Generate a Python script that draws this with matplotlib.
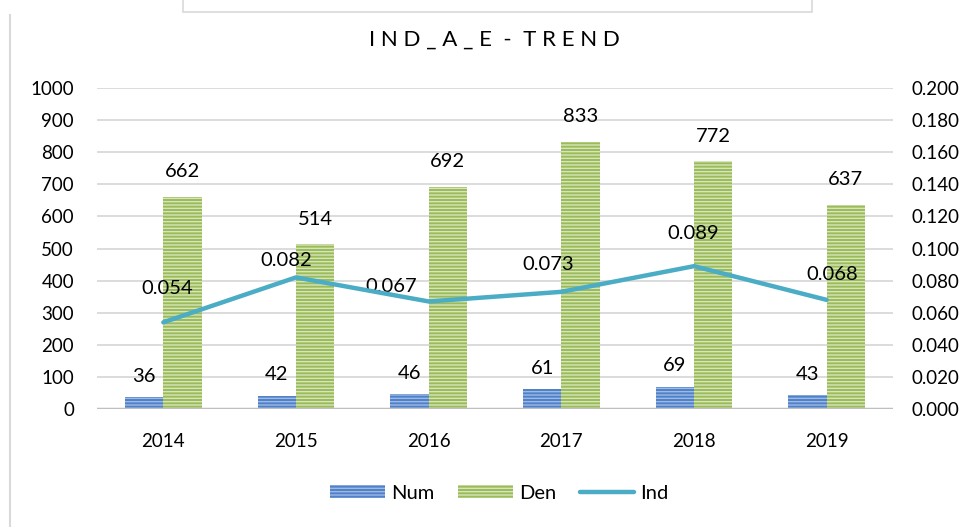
import matplotlib
matplotlib.use("Agg")
import matplotlib.pyplot as plt
from matplotlib.patches import Patch, Rectangle
from matplotlib.lines import Line2D

# chart data
years = ["2014", "2015", "2016", "2017", "2018", "2019"]
num = [36, 42, 46, 61, 69, 43]
den = [662, 514, 692, 833, 772, 637]
ind = [0.054, 0.082, 0.067, 0.073, 0.089, 0.068]

# label offsets for the Ind line (pixels)
ind_label_offsets = [(4, 34), (-10, 17), (-37, 15), (-13, 27), (-1, 33), (6, 25)]

plt.rcParams['font.family'] = ['Lato', 'DejaVu Sans']
plt.rcParams['hatch.linewidth'] = 1.0

blue = '#4F81C8'
blue_light = '#9DB9E4'
green = '#9BBB59'
green_light = '#D6E5BC'
teal = '#4BACC6'

fig = plt.figure(figsize=(9.7, 5.27), dpi=100)
ax = fig.add_axes([0.1, 0.2239, 0.8206, 0.6091])
ax2 = ax.twinx()

x = list(range(len(years)))
w = 0.29

# bars: solid fill, then light horizontal stripes on top
xb = [i - w / 2 for i in x]
xg = [i + w / 2 for i in x]
ax.bar(xb, num, width=w, color=blue, linewidth=0, zorder=2)
ax.bar(xb, num, width=w, facecolor='none', edgecolor=blue_light, hatch='-----', linewidth=0, zorder=3)
ax.bar(xg, den, width=w, color=green, linewidth=0, zorder=2)
ax.bar(xg, den, width=w, facecolor='none', edgecolor=green_light, hatch='-----', linewidth=0, zorder=3)

for i in x:
    ax.annotate(str(num[i]), (xb[i], num[i]), xytext=(0, 21), textcoords='offset pixels',
                ha='center', va='center', fontsize=14.5)
    ax.annotate(str(den[i]), (xg[i], den[i]), xytext=(0, 25), textcoords='offset pixels',
                ha='center', va='center', fontsize=14.5)

ax2.plot(x, ind, color=teal, linewidth=3.2, solid_capstyle='round', zorder=4)
for i in x:
    dx, dy = ind_label_offsets[i]
    ax2.annotate(f"{ind[i]:.3f}", (x[i], ind[i]), xytext=(dx, dy), textcoords='offset pixels',
                 ha='center', va='center', fontsize=14.5)

ax.set_xlim(-0.5, len(years) - 0.5)
ax.set_ylim(0, 1000)
ax.set_yticks(range(0, 1001, 100))
ax2.set_ylim(0, 0.2)
ax2.set_yticks([i * 0.02 for i in range(11)])
ax2.set_yticklabels([f"{i * 0.02:.3f}" for i in range(11)])
ax.set_xticks(x)
ax.set_xticklabels(years)

ax.grid(axis='y', color='#D9D9D9', linewidth=1.3, zorder=0)
ax.set_axisbelow(True)
for a in (ax, ax2):
    for s in ('top', 'right', 'left', 'bottom'):
        a.spines[s].set_visible(False)
    a.tick_params(length=0, labelsize=13.5)
ax.axhline(0, color='#BFBFBF', linewidth=2.5, zorder=5)
ax.tick_params(axis='y', pad=16.5)
ax.tick_params(axis='x', pad=17)
ax2.tick_params(axis='y', pad=13.5)

fig.text(0.51, 0.924, "I N D _ A _ E  -  T R E N D", ha='center', va='center', fontsize=16)

# frame pieces of the original
fig.add_artist(Rectangle((0.1887, 0.977), 0.6485, 0.05, transform=fig.transFigure,
                         facecolor='white', edgecolor='#D9D9D9', linewidth=1.2))
fig.add_artist(Line2D([0.0103, 0.0103], [0.0, 0.972], transform=fig.transFigure,
                      color='#D9D9D9', linewidth=1.5))

handles = [
    Patch(facecolor=blue, edgecolor=blue_light, hatch='-----', linewidth=0, label='Num'),
    Patch(facecolor=green, edgecolor=green_light, hatch='-----', linewidth=0, label='Den'),
    Line2D([0], [0], color=teal, linewidth=3.2, solid_capstyle='round', label='Ind'),
]
fig.legend(handles=handles, loc='center', bbox_to_anchor=(0.515, 0.064), ncol=3, frameon=False,
           fontsize=14.5, handlelength=2.7, handleheight=0.6, columnspacing=1.2, handletextpad=0.3)

fig.savefig("out.png", dpi=100)
plt.close(fig)
